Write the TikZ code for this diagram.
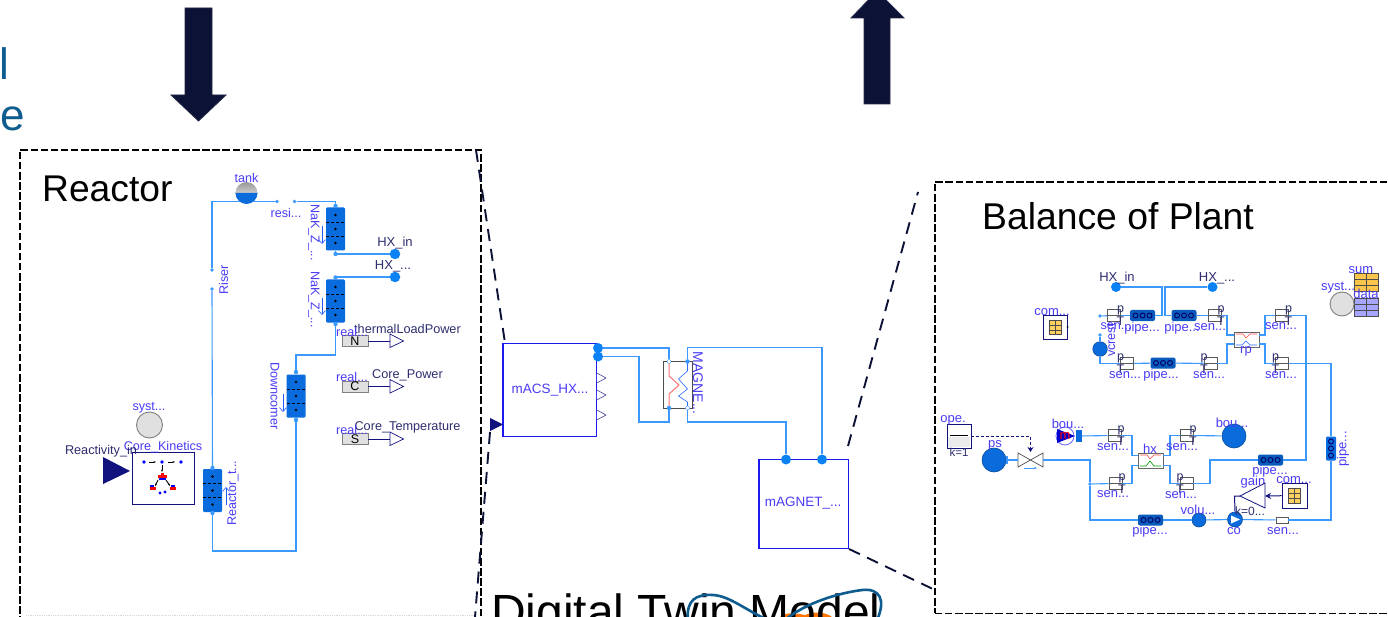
\documentclass[tikz,border=0pt]{standalone}
\usepackage{fontspec}
\setmainfont{Liberation Sans}
\usetikzlibrary{arrows.meta,positioning}
\definecolor{fluid}{HTML}{3A98FF}
\definecolor{pipeblue}{HTML}{0A6BDC}
\definecolor{portblue}{HTML}{0A82F5}
\definecolor{lab}{HTML}{4A3CF5}
\definecolor{darklab}{HTML}{2E2E70}
\definecolor{boxblue}{HTML}{1A1AF0}
\definecolor{navy}{HTML}{0C1236}
\definecolor{sigblue}{HTML}{12127E}
\definecolor{teal}{HTML}{0F5C8F}
\tikzset{
  fsize/.style={font=\fontsize{#1}{#1}\selectfont},
  lbl/.style={text=lab,inner sep=0pt,fsize=12.6},
  dlbl/.style={text=darklab,inner sep=0pt,fsize=12.7},
  slbl/.style={text=lab,inner sep=0pt,fsize=13},
  big/.style={text=black,inner sep=0pt,anchor=west},
  flow/.style={draw=fluid,line width=1.1pt},
  frame/.style={draw=black,line width=1.7pt,dash pattern=on 7.5pt off 2.6pt,inner sep=0pt,anchor=north west},
  link/.style={draw=navy,line width=1.9pt,dash pattern=on 12pt off 8pt},
  bigarrow/.style={fill=navy,draw=navy!80!gray,line width=.8pt},
  port/.style={circle,fill=portblue,inner sep=0pt,minimum size=10.5pt},
  pipev/.style={fill=pipeblue,rounded corners=1.2pt,inner sep=0pt,minimum width=19pt,minimum height=43pt},
  pipeh/.style={fill=pipeblue!85!black,rounded corners=2pt,inner sep=0pt,minimum width=25pt,minimum height=11pt},
  sensorbox/.style={draw=black!65,fill=white,line width=.8pt,inner sep=0pt,minimum width=13pt,minimum height=12.5pt},
  block/.style={draw=boxblue,fill=white,line width=1pt,inner sep=0pt},
  vessel/.style={circle,inner sep=0pt,fill=pipeblue,draw=pipeblue!70!black,line width=.6pt},
  sysnode/.style={circle,inner sep=0pt,fill=black!12,draw=black!50,line width=.9pt},
  tablebox/.style={draw=sigblue,fill=white,line width=1pt,inner sep=0pt,minimum size=24pt},
  realbox/.style={draw=black!50,fill=black!12,line width=.8pt,inner sep=0pt,minimum width=26pt,minimum height=11pt,font=\fontsize{12.5}{12.5}\selectfont},
  sig/.style={draw=sigblue,line width=1pt},
  tri/.style={draw=sigblue,fill=white,line width=.7pt},
  dot/.style={circle,fill=fluid,inner sep=0pt,minimum size=3.6pt}
}
\newcommand{\pipeV}[3]{%
  \node[pipev] (#1) at (#2,#3) {};
  \foreach \dy in {-14,0,14} {\fill[black] (#2,#3+\dy) circle (1.3pt);}
  \foreach \dy in {-7,7} {\draw[black,line width=.5pt,densely dashed] (#2-9.5,#3+\dy) -- (#2+9.5,#3+\dy);}
}
\newcommand{\pipeH}[3]{%
  \node[pipeh] (#1) at (#2,#3) {};
  \foreach \dx in {-7,0,7} {\draw[black!60!blue,line width=.9pt] (#2+\dx,#3) circle (2.5pt);}
}
\newcommand{\sensorR}[3]{%
  \node[sensorbox] (#1) at (#2,#3) {};
  \draw[black!65,line width=.5pt] (#2-6.5,#3) -- (#2+6.5,#3);
  \node[text=darklab,inner sep=0pt,fsize=12.5] at (#2+6.5,#3-5) {p};
  \node[text=darklab,inner sep=0pt,fsize=12.5] at (#2+6.5,#3+6) {T};
}
\newcommand{\sensorL}[3]{%
  \node[sensorbox] (#1) at (#2,#3) {};
  \draw[black!65,line width=.5pt] (#2-6.5,#3) -- (#2+6.5,#3);
  \node[text=darklab,inner sep=0pt,fsize=12.5] at (#2-6.5,#3-5) {p};
  \node[text=darklab,inner sep=0pt,fsize=12.5] at (#2-6.5,#3+6) {T};
}
\newcommand{\gridicon}[5]{% cx cy w h colour
  \fill[#5] (#1-#3/2,#2-#4/2) rectangle (#1+#3/2,#2+#4/2);
  \draw[black!70,line width=.5pt] (#1-#3/2,#2-#4/2) rectangle (#1+#3/2,#2+#4/2)
    (#1,#2-#4/2) -- (#1,#2+#4/2)
    (#1-#3/2,#2-#4/6) -- (#1+#3/2,#2-#4/6)
    (#1-#3/2,#2+#4/6) -- (#1+#3/2,#2+#4/6);
}
\begin{document}
\begin{tikzpicture}[x=1pt,y=-1pt]
\clip (0,0) rectangle (1388,617);
\fill[white] (0,0) rectangle (1388,617);
% cut-off title letters
\node[text=teal,inner sep=0pt,anchor=base west,fsize=44] (titleL) at (-1,80) {l};
\node[text=teal,inner sep=0pt,anchor=base west,fsize=44] (titleE) at (0,131) {e};
% big arrows
\draw[bigarrow] (185,8) -- (212,8) -- (212,95) -- (226,95) -- (198.5,121) -- (171,95) -- (185,95) -- cycle;
\draw[bigarrow] (864,104) -- (890,104) -- (890,18) -- (904,18) -- (877,-9) -- (851,18) -- (864,18) -- cycle;
% frames
\node[frame,minimum width=461pt,minimum height=490pt] (reactorframe) at (19,149) {};
\node[frame,minimum width=470pt,minimum height=431.5pt] (bopframe) at (934,181) {};
\draw[black!15,line width=.8pt,densely dotted] (26,615) -- (474,615);
\node[big,fsize=37.2] (reactortitle) at (42,188.5) {Reactor};
\node[big,fsize=37.3] (boptitle) at (982,216.5) {Balance of Plant};
% zoom links
\coordinate (la1) at (476,150); \coordinate (la2) at (505,343);
\coordinate (lb1) at (490,432); \coordinate (lb2) at (475,617);
\coordinate (lc1) at (848,446); \coordinate (lc2) at (918,192);
\coordinate (ld1) at (849,549); \coordinate (ld2) at (935,590);
\draw[link] (la1) -- (la2);
\draw[link] (lb1) -- (lb2);
\draw[link] (lc1) -- (lc2);
\draw[link] (ld1) -- (ld2);
%%% REACTOR
\pipeV{nak1}{335.5}{229}
\pipeV{nak2}{335.5}{301}
\pipeV{down}{296}{396}
\pipeV{rtop}{212.5}{490.5}
\node[port] (hxinR) at (395,254) {};
\node[port] (hxoutR) at (395,277) {};
\node[dlbl,fsize=13] (hxinRl) at (395,243) {HX\_in};
\node[dlbl,fsize=13] (hxoutRl) at (393,266) {HX\_...};
\node[dot] (rdA) at (212,270) {};
\node[dot] (rdB) at (212,289) {};
\node[dot] (resA) at (277,201.5) {};
\node[dot] (resB) at (294.5,201.5) {};
\draw[flow] (rtop.north) -- (rdB);
\draw[flow] (rdA) |- (resA);
\draw[flow] (resB) -- (335.5,201.5) -- (nak1.north);
\draw[flow] (nak1.south) |- (hxinR);
\draw[flow] (nak2.north) |- (hxoutR);
\draw[flow] (nak2.south) -- (335.5,355) -| (down.north);
\draw[flow,line width=1.3pt] (down.south) |- (212.5,551) -- (rtop.south);
\fill[fluid] (335.5,254) circle (2.2pt) (335.5,277.5) circle (2.2pt) (335.5,206) circle (2.2pt) (335.5,324) circle (2.2pt) (296,372) circle (2.2pt) (296,420) circle (2.2pt) (212.5,468) circle (2.2pt) (212.5,513) circle (2.2pt);
% tank sits on top of the line
\node[circle,inner sep=0pt,minimum size=22pt,top color=black!40,bottom color=white] (tank) at (246.5,193) {};
\fill[pipeblue] (235.5,193) arc[start angle=180,end angle=360,x radius=11pt,y radius=11pt] -- cycle;
\node[lbl] (tanklab) at (246.5,178) {tank};
\node[lbl] (resil) at (286,212.5) {resi...};
\node[lbl,rotate=-90,anchor=west] (nak1l) at (314,204) {NaK\_Z\_...};
\node[lbl,rotate=-90,anchor=west] (nak2l) at (314,271) {NaK\_Z\_...};
\node[lbl,rotate=90] (riserl) at (223.5,280) {Riser};
\node[lbl,rotate=-90,anchor=west] (downl) at (275,362) {Downcomer};
\node[lbl,rotate=90,anchor=west] (rtopl) at (233,526) {Reactor\_t...};
\draw[-{Straight Barb[length=4pt,width=7pt]},fluid!60!blue,line width=.6pt] (322,226) -- (322,244);
\draw[-{Straight Barb[length=4pt,width=7pt]},fluid!60!blue,line width=.6pt] (322,298) -- (322,315);
\draw[-{Straight Barb[length=4pt,width=7pt]},fluid!60!blue,line width=.6pt] (283,394) -- (283,412);
\draw[-{Straight Barb[length=4pt,width=7pt]},fluid!60!blue,line width=.6pt] (226,505) -- (226,487);
% system + kinetics
\node[sysnode,minimum size=26pt] (systR) at (149.5,425) {};
\node[lbl] (systRl) at (149,408) {syst...};
\node[draw=sigblue,fill=white,line width=1pt,inner sep=0pt,minimum width=62pt,minimum height=52pt] (kin) at (163,478) {};
\node[lbl] (kinl) at (163,447) {Core\_Kinetics};
\fill[sigblue] (103,457) -- (130,471) -- (103,484) -- cycle;
\node[dlbl] (reacl) at (101,451.5) {Reactivity\_in};
\fill[blue] (144,462) circle (1.8pt) (162,462) circle (1.8pt) (181,462) circle (1.8pt) (160,493) circle (1.6pt) (165,492) circle (1.6pt);
\draw[black,line width=.9pt,-{Stealth[length=2.5pt]}] (149,462) -- (156,462);
\draw[black,line width=.9pt,-{Stealth[length=2.5pt]}] (168,462) -- (175,462);
\draw[black,line width=.9pt,-{Stealth[length=2.5pt]}] (162,465) -- (162,472);
\draw[black,line width=.9pt,-{Stealth[length=2.5pt]}] (158,480) -- (155,486);
\draw[black,line width=.9pt,-{Stealth[length=2.5pt]}] (166,480) -- (170,486);
\fill[red] (158,475) rectangle (167,478);
\fill[blue] (159,478) rectangle (166,479.5);
\fill[red] (150,487) rectangle (156,490);
\fill[blue] (150,485) rectangle (154,487);
\fill[red] (170,487) rectangle (176,490);
\fill[blue] (171,485) rectangle (175,487);
\fill[red] (161,472.5) rectangle (164,475);
% real outputs
\foreach \nm/\ltr/\yy/\ttl/\tty/\rly in {A/N/341/thermalLoadPower/329/331.5, B/C/386.5/Core\_Power/375/377, C/S/439/Core\_Temperature/427.5/430}{
  \node[realbox] (real\nm) at (355,\yy) {\ltr\rule{0pt}{6pt}\hspace{16pt}};
  \draw[tri] (390,\yy-7) -- (403.5,\yy) -- (390,\yy+6.5) -- cycle;
  \coordinate (tri\nm) at (390,\yy);
  \draw[sig] (real\nm) -- (tri\nm);
  \node[dlbl] (out\nm) at (407.5,\tty) {\ttl};
  \node[lbl] (reall\nm) at (352,\rly) {real...};
}
%%% MIDDLE
\node[block,minimum width=93.5pt,minimum height=93.5pt,line width=1.1pt] (macs) at (549.7,390) {};
\node[lbl,fsize=13.5] (macsl) at (550,390) {mACS\_HX...};
\node[block,minimum width=89.5pt,minimum height=89.5pt,line width=1.1pt] (magnet) at (803.7,504) {};
\node[lbl,fsize=13.5] (magnetl) at (803,503.5) {mAGNET\_...};
\node[draw=black!70,fill=white,line width=.9pt,inner sep=0pt,minimum width=29pt,minimum height=47pt] (mhx) at (678,384.5) {};
\draw[red!55!white,line width=1pt] (669,361) -- (669,376) -- (679,385) -- (669,394) -- (669,408);
\draw[fluid!70!blue,line width=.6pt] (687.5,361) -- (687.5,371) -- (678.5,379) -- (687.5,389) -- (678.5,396) -- (687.5,402) -- (687.5,408);
\node[lbl,rotate=-90,anchor=west,fsize=14] (mhxl) at (698,351.5) {MAGNE...};
\node[port,minimum size=10pt] (mp1) at (598,348) {};
\node[port,minimum size=10pt] (mp2) at (598,356.5) {};
\node[port,minimum size=10pt] (gp1) at (786,459.5) {};
\node[port,minimum size=10pt] (gp2) at (822,459.5) {};
\node[circle,fill=white,draw=fluid,inner sep=0pt,minimum size=4pt] (xa) at (669,361.5) {};
\node[circle,fill=fluid,draw=fluid,inner sep=0pt,minimum size=4pt] (xb) at (687.5,361.5) {};
\node[circle,fill=fluid,draw=fluid,inner sep=0pt,minimum size=4pt] (xc) at (669,408) {};
\node[circle,fill=white,draw=fluid,inner sep=0pt,minimum size=4pt] (xd) at (687.5,408) {};
\draw[flow] (mp1) -| (xa);
\draw[flow] (mp2) -- (639,356.5) |- (669,422) -- (xc);
\draw[flow] (xb) -- (687.5,347.5) -| (gp2);
\draw[flow] (xd) -- (687.5,422) -| (gp1);
\foreach \yy in {378,395,415}{\draw[sigblue!80!white,fill=white,line width=.6pt] (596.8,\yy-5) -- (606,\yy) -- (596.8,\yy+5);}
\fill[sigblue] (490,418) -- (503,424.5) -- (490,431) -- cycle;
% digital twin
\fill[orange!90!red] (780,617) .. controls (785,612) and (795,613) .. (805,615) .. controls (815,611) and (825,612) .. (832,617) -- cycle;
\node[big,anchor=base west,fsize=48] (dtwin) at (491,628.5) {Digital Twin Model};
\draw[teal,line width=2.6pt] (688,620) .. controls (686,600) and (696,594) .. (713,595) .. controls (730,596) and (745,610) .. (770,621);
\draw[teal,line width=2.6pt] (783,622) .. controls (795,610) and (825,595) .. (862,590) .. controls (880,588) and (886,600) .. (877,620);
%%% BOP
\node[port,minimum size=10pt] (hxinB) at (1116,287) {};
\node[port,minimum size=10pt] (hxoutB) at (1212.5,287) {};
\node[dlbl,fsize=13] (hxinBl) at (1117,278) {HX\_in};
\node[dlbl,fsize=13] (hxoutBl) at (1217,278) {HX\_...};
\pipeH{p1}{1142.5}{315.5}
\pipeH{p2}{1184}{315.5}
\pipeH{p3}{1163}{363}
\sensorR{s1}{1114}{315.5}
\sensorR{s2}{1214.5}{315.5}
\sensorR{s3}{1282}{315.5}
\sensorL{s4}{1127}{363.5}
\sensorL{s5}{1210.5}{363.5}
\sensorL{s6}{1282}{363.5}
\node[draw=black!60,fill=white,line width=1pt,inner sep=0pt,minimum width=25pt,minimum height=15pt] (rp) at (1246.5,339.5) {};
\draw[red!70,line width=.6pt] (1236,334) -- (1243,334) -- (1246,338) -- (1250,334) -- (1257,334);
\draw[fluid!70!blue,line width=.6pt] (1236,345) -- (1242,345) -- (1246,341) -- (1250,345) -- (1257,345);
\node[vessel,minimum size=14.5pt] (vc) at (1100,349) {};
\node[dot] (vdA) at (1100,316) {};
\node[dot] (vdB) at (1100,335) {};
\draw[flow] (hxinB) -- (1162,287) |- (p1);
\draw[flow] (hxoutB) -- (1165,287) |- (p2);
\draw[flow] (p1) -- (s1);
\draw[flow] (s1) -- (vdA);
\draw[flow] (vdB) -- (vc);
\draw[flow] (vc) |- (s4);
\draw[flow] (s4) -- (p3);
\draw[flow] (p3) -- (s5);
\draw[flow] (p2) -- (s2);
\draw[flow] (s2) -- (1227,315.5) |- (1234,335);
\draw[flow] (s5) -- (1227,363.5) |- (1234,344);
\draw[flow] (1259,335) -- (1265,335) |- (s3);
\draw[flow] (1259,344) -- (1265,344) |- (s6);
\node[tablebox] (comA) at (1055,327.5) {};
\gridicon{1055}{327.5}{12}{14}{yellow!45!orange!60!white}
\fill[black] (1067.5,327) circle (1pt);
\node[slbl] (comAl) at (1052,312) {com...};
\node[lbl,rotate=90] (vcl) at (1111,340) {vcrest};
\node[lbl,fill=none] (s1l) at (1116,326) {sen...};
\node[slbl] (p1l) at (1142,328) {pipe...};
\node[slbl] (p2l) at (1182,328) {pipe...};
\node[slbl] (s2l) at (1210,327.5) {sen...};
\node[slbl] (s3l) at (1281,326.5) {sen...};
\node[slbl] (rpl) at (1246,351.5) {rp};
\node[slbl] (s4l) at (1125,375) {sen...};
\node[slbl] (p3l) at (1161,375) {pipe...};
\node[slbl] (s5l) at (1209,375) {sen...};
\node[slbl] (s6l) at (1281,375) {sen...};
\gridicon{1366}{282}{24}{18}{yellow!40!orange!70!white}
\gridicon{1366}{307}{24}{18}{blue!35!white}
\node[sysnode,minimum size=24pt] (systB) at (1342,304) {};
\node[slbl] (suml) at (1361,270) {sum};
\node[slbl] (systBl) at (1338,288) {syst...};
\node[slbl] (datal) at (1366,294) {data};
% lower loop
\node[draw=sigblue,fill=white,line width=1pt,inner sep=0pt,minimum size=24pt] (ope) at (959,436) {};
\fill[black!8] (948,437) rectangle (970,447);
\draw[black,line width=.7pt] (950,435.5) -- (968,435.5);
\node[slbl] (opel) at (953,420.5) {ope.};
\node[dlbl,fsize=11.5] (opek) at (959,452) {k=1};
\node[vessel,minimum size=24pt] (ps) at (994,460) {};
\fill[fluid] (1006,456) rectangle (1008,464);
\node[slbl] (psl) at (995,445.5) {ps};
\node[inner sep=0pt,minimum width=25pt,minimum height=14pt] (valve) at (1030.5,460) {};
\draw[black!70,fill=white,line width=.7pt] (1018,453) -- (1043,467) -- (1043,453) -- (1018,467) -- cycle;
\draw[fluid,line width=.8pt,-{Stealth[length=3pt]}] (1024,468) -- (1037,468);
\coordinate (valvetop) at (1030.5,452);
\draw[sigblue,line width=.9pt,densely dashed,-{Stealth[length=5pt,width=6pt]}] (971,436) -- (1030.5,436) -- (valvetop);
\draw[flow] (ps) -- (valve);
\node[circle,draw=blue!60,fill=white,line width=.8pt,inner sep=0pt,minimum size=18pt] (bouA) at (1065,436) {};
\fill[blue!80!black] (1057,429) -- (1075,436) -- (1057,443) -- cycle;
\node[text=red,inner sep=0pt,fsize=13] at (1065,436) {m};
\node[fill=pipeblue,inner sep=0pt,minimum width=6pt,minimum height=12pt] (bouB) at (1079,436) {};
\node[slbl] (bouAl) at (1068,423.5) {bou...};
\sensorR{s7}{1115.5}{483.5}
\sensorR{s8}{1114.5}{435.5}
\sensorR{s9}{1186.5}{435.5}
\sensorL{s10}{1186.5}{483.5}
\node[draw=black!60,fill=white,line width=1pt,inner sep=0pt,minimum width=25pt,minimum height=15pt] (hx) at (1150.5,460.5) {};
\draw[red!70,line width=.6pt] (1140,455) -- (1147,455) -- (1150,459) -- (1154,455) -- (1161,455);
\draw[green!60!black,line width=.6pt] (1140,466) -- (1146,466) -- (1150,461) -- (1154,466) -- (1161,466);
\node[vessel,minimum size=24pt] (bouC) at (1234,436) {};
\pipeH{p4}{1270.5}{460}
\node[pipev,minimum width=10pt,minimum height=24pt] (p5) at (1331,448.5) {};
\foreach \dy in {-7,0,7} {\draw[black!60!blue,line width=.9pt] (1331,448.5+\dy) circle (2.5pt);}
\pipeH{p6}{1150.5}{520}
\node[vessel,minimum size=14pt] (volu) at (1199,520) {};
\node[vessel,minimum size=15pt] (co) at (1235,519.5) {};
\fill[white] (1231,515.5) -- (1240,519.5) -- (1231,523.5) -- cycle;
\node[draw=black!65,fill=white,line width=.6pt,inner sep=0pt,minimum width=12pt,minimum height=6pt] (s11) at (1282,520) {};
\node[dot] (jn) at (1090,484) {};
\draw[flow,line width=1.3pt] (valve) -- (1090,460) -- (jn);
\draw[flow] (jn) -- (s7);
\draw[flow] (jn) |- (p6);
\draw[flow] (p6) -- (volu);
\draw[flow] (volu) -- (co);
\draw[flow] (co) -- (s11);
\draw[flow] (s11) -- (1331,520) -- (p5.south);
\draw[flow] (p5.north) -- (1331,363.5) -- (s6);
\draw[flow] (bouB) -- (s8);
\draw[flow] (s8) -- (1132,435.5) |- (1138,455.5);
\draw[flow] (s7) -- (1132,483.5) |- (1138,465.5);
\draw[flow] (1163,455.5) -- (1170,455.5) |- (s9);
\draw[flow] (1163,465.5) -- (1170,465.5) |- (s10);
\draw[flow] (s9) -- (bouC);
\draw[flow] (s10) -- (1210,483.5) |- (p4);
\draw[flow] (p4) -- (1306,460) |- (s3);
\node[slbl] (s8l) at (1113,447) {sen...};
\node[slbl] (s7l) at (1113,494.5) {sen...};
\node[slbl] (hxl) at (1150,449) {hx};
\node[slbl] (s9l) at (1182,447) {sen...};
\node[slbl] (s10l) at (1181,495) {sen...};
\node[slbl] (bouCl) at (1232,423) {bou...};
\node[slbl] (p4l) at (1270,471) {pipe...};
\node[slbl,rotate=90] (p5l) at (1343,449) {pipe...};
\node[slbl] (p6l) at (1150,531) {pipe...};
\node[slbl] (volul) at (1198,510) {volu...};
\node[slbl] (col) at (1234,531) {co};
\node[slbl] (s11l) at (1283,531) {sen...};
\node[slbl] (gainl) at (1253,482) {gain};
\node[slbl] (comBl) at (1294,480) {com...};
\node[dlbl,fsize=12] (kl) at (1250,511) {k=0...};
\node[tablebox,minimum size=25pt] (comB) at (1294.5,495.5) {};
\gridicon{1294.5}{495.5}{12}{15}{yellow!45!orange!60!white}
\draw[sigblue,fill=white,line width=.8pt] (1240,496) -- (1265,483) -- (1265,508) -- cycle;
\coordinate (gainR) at (1265,496);
\coordinate (gainL) at (1240,496);
\draw[sig,-{Stealth[length=6pt,width=6pt]}] (comB) -- (gainR);
\draw[sig] (gainL) -- (1234.5,496) -- (co.north);
\end{tikzpicture}
\end{document}
